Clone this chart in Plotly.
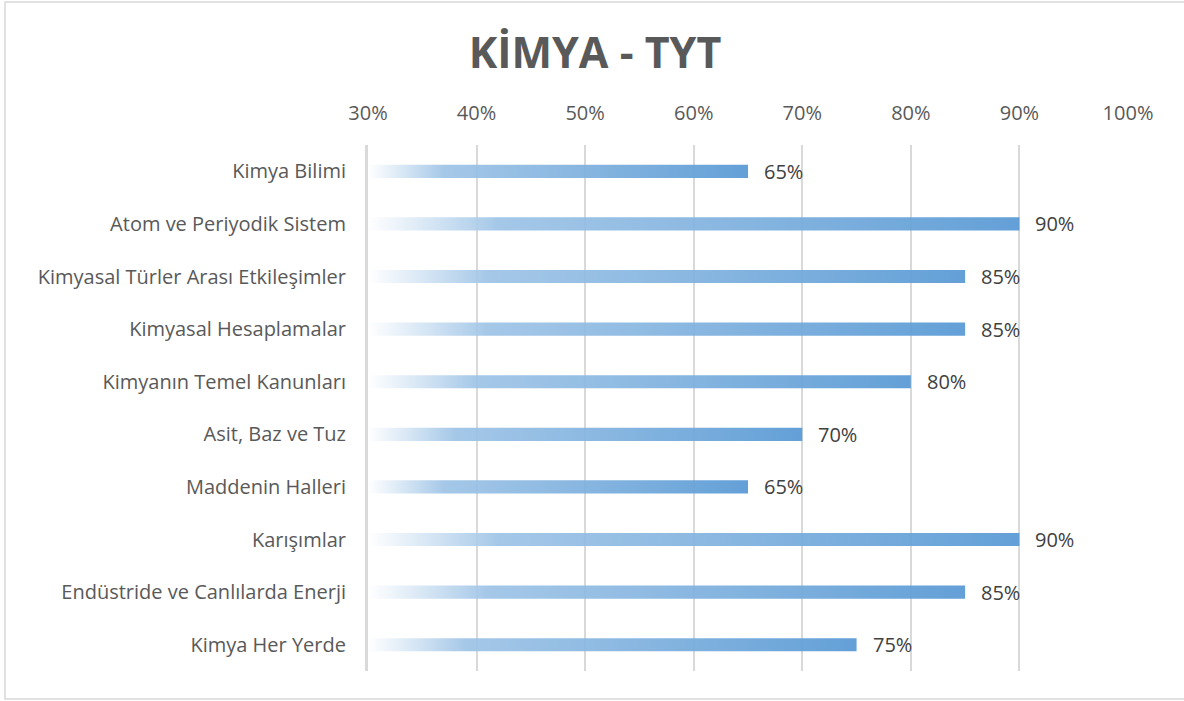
import plotly.graph_objects as go

categories = [
    "Kimya Bilimi",
    "Atom ve Periyodik Sistem",
    "Kimyasal Türler Arası Etkileşimler",
    "Kimyasal Hesaplamalar",
    "Kimyanın Temel Kanunları",
    "Asit, Baz ve Tuz",
    "Maddenin Halleri",
    "Karışımlar",
    "Endüstride ve Canlılarda Enerji",
    "Kimya Her Yerde",
]
values = [65, 90, 85, 85, 80, 70, 65, 90, 85, 75]
tick_vals = [30, 40, 50, 60, 70, 80, 90, 100]
tick_text = ["30%", "40%", "50%", "60%", "70%", "80%", "90%", "100%"]

AXIS_MIN = 30
AXIS_MAX = 100
HALF = 0.125  # half bar thickness in category units
FONT = "Open Sans"
TXT = "#595959"

fig = go.Figure()
grad = [[0, "rgba(255,255,255,0.85)"], [0.2, "rgba(157,195,230,0.92)"], [1, "rgba(91,155,213,0.95)"]]
for i, (c, v) in enumerate(zip(categories, values)):
    fig.add_trace(go.Scatter(
        x=[AXIS_MIN, v, v, AXIS_MIN, AXIS_MIN],
        y=[i - HALF, i - HALF, i + HALF, i + HALF, i - HALF],
        mode="lines", fill="toself", line=dict(width=0),
        fillgradient=dict(type="horizontal", colorscale=grad),
        hoverinfo="text", text=f"{c}: {v}%", showlegend=False,
    ))
    fig.add_annotation(x=v, y=i, text=f"{v}%", xanchor="left", xshift=14,
                       showarrow=False, font=dict(family=FONT, size=20, color="#404040"))

fig.add_shape(type="rect", xref="paper", yref="paper",
              x0=(5 - 368) / 760, x1=(1190 - 368) / 760,
              y0=(671 - 699) / 526, y1=(671 - 2) / 526,
              line=dict(color="#d9d9d9", width=1.5), fillcolor="rgba(0,0,0,0)", layer="below")

fig.update_layout(
    width=1184, height=701,
    margin=dict(l=368, r=56, t=145, b=30),
    paper_bgcolor="white", plot_bgcolor="white",
    title=dict(text="<b>KİMYA - TYT</b>", x=595 / 1184, xanchor="center", y=1 - 53 / 701, yanchor="middle",
               font=dict(family=FONT, size=43, color=TXT)),
    xaxis=dict(range=[AXIS_MIN, AXIS_MAX], side="top", tickvals=tick_vals, ticktext=tick_text,
               showgrid=True, gridcolor="#d9d9d9", gridwidth=1.5, zeroline=False, showline=False,
               ticks="", ticklabelstandoff=20, tickfont=dict(family=FONT, size=20, color=TXT)),
    yaxis=dict(range=[len(categories) - 0.5, -0.5], tickvals=list(range(len(categories))), ticktext=categories,
               showgrid=False, zeroline=False, showline=True, linecolor="#d9d9d9", linewidth=3,
               ticks="", ticklabelstandoff=15, tickfont=dict(family=FONT, size=20, color=TXT)),
)

fig.write_html("out.html", config={"displayModeBar": False},
               post_script="document.body.style.margin='0';")
